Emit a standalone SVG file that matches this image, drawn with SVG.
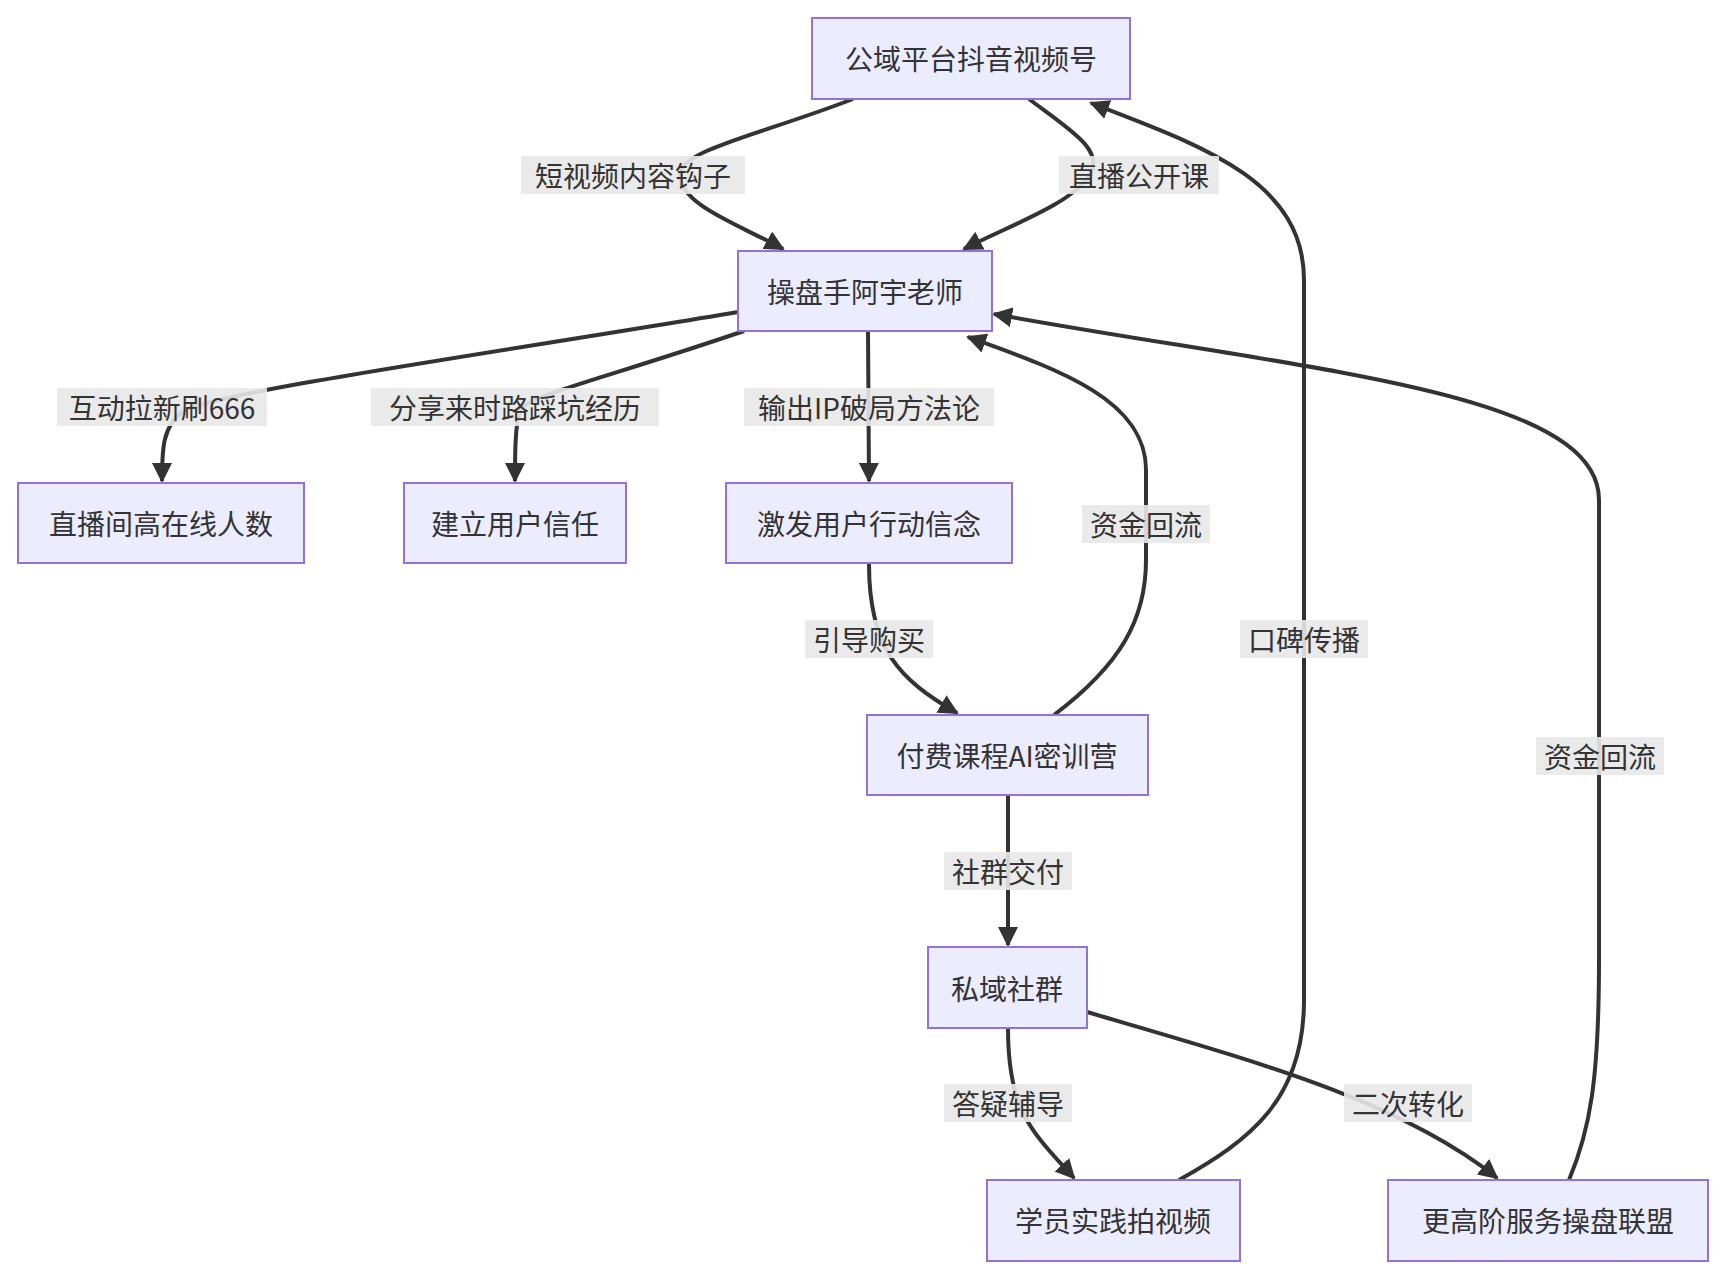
<svg xmlns="http://www.w3.org/2000/svg" width="1724" height="1278" viewBox="0 0 1724 1278">
<style>
.n rect{fill:#ECECFF;stroke:#9370DB;stroke-width:2}
text{font-family:"Noto Sans CJK SC","Liberation Sans",sans-serif;font-size:28px;fill:#333;text-anchor:middle;dominant-baseline:central}
.e path{fill:none;stroke:#333;stroke-width:4}
.l rect{fill:#e8e8e8;opacity:0.9}
</style>
<defs><marker id="a" viewBox="0 0 10 10" refX="9" refY="5" markerWidth="5" markerHeight="5" orient="auto"><path d="M0,0L10,5L0,10z" fill="#333"/></marker></defs>
<rect width="1724" height="1278" fill="#fff"/>
<g class="e">
<path d="M853,99 C760,135 680,150 680,175 C680,205 740,225 783,249" marker-end="url(#a)"/>
<path d="M1029,99 C1070,130 1105,150 1090,175 C1070,205 1010,225 964,249" marker-end="url(#a)"/>
<path d="M1179,1180 C1250,1140 1304,1100 1304,1000 L1304,280 C1304,180 1200,145 1091,103" marker-end="url(#a)"/>
<path d="M738,312 C500,352 230,390 185,410 C162,425 162,450 162,481" marker-end="url(#a)"/>
<path d="M744,331 C600,380 530,395 520,410 C515,425 515,455 515,481" marker-end="url(#a)"/>
<path d="M868,331 L869,481" marker-end="url(#a)"/>
<path d="M1054,715 C1120,665 1146,620 1146,560 L1146,470 C1146,400 1060,370 968,337" marker-end="url(#a)"/>
<path d="M869,564 C869,650 900,680 957,713" marker-end="url(#a)"/>
<path d="M1008,795 L1008,945" marker-end="url(#a)"/>
<path d="M1008,1028 C1008,1110 1030,1130 1074,1178" marker-end="url(#a)"/>
<path d="M1087,1012 C1250,1060 1400,1100 1497,1178" marker-end="url(#a)"/>
<path d="M1569,1180 C1590,1130 1599,1080 1599,960 L1599,500 C1599,390 1300,370 994,314" marker-end="url(#a)"/>
</g>
<g class="l">
<rect x="521" y="156" width="224" height="38"/><text x="633" y="175">短视频内容钩子</text>
<rect x="1059" y="156" width="160" height="38"/><text x="1139" y="175">直播公开课</text>
<rect x="1240" y="620" width="128" height="38"/><text x="1304" y="639">口碑传播</text>
<rect x="57" y="388" width="210" height="38"/><text x="162" y="407">互动拉新刷666</text>
<rect x="371" y="388" width="288" height="38"/><text x="515" y="407">分享来时路踩坑经历</text>
<rect x="744" y="388" width="250" height="38"/><text x="869" y="407">输出IP破局方法论</text>
<rect x="1082" y="505" width="128" height="38"/><text x="1146" y="524">资金回流</text>
<rect x="805" y="620" width="128" height="38"/><text x="869" y="639">引导购买</text>
<rect x="944" y="852" width="128" height="38"/><text x="1008" y="871">社群交付</text>
<rect x="944" y="1084" width="128" height="38"/><text x="1008" y="1103">答疑辅导</text>
<rect x="1344" y="1084" width="128" height="38"/><text x="1408" y="1103">二次转化</text>
<rect x="1536" y="737" width="128" height="38"/><text x="1600" y="756">资金回流</text>
</g>
<g id="n1" class="n"><rect x="812" y="18" width="318" height="81"/><text x="971" y="58">公域平台抖音视频号</text></g>
<g id="n2" class="n"><rect x="738" y="251" width="254" height="80"/><text x="865" y="291">操盘手阿宇老师</text></g>
<g id="n3" class="n"><rect x="18" y="483" width="286" height="80"/><text x="161" y="523">直播间高在线人数</text></g>
<g id="n4" class="n"><rect x="404" y="483" width="222" height="80"/><text x="515" y="523">建立用户信任</text></g>
<g id="n5" class="n"><rect x="726" y="483" width="286" height="80"/><text x="869" y="523">激发用户行动信念</text></g>
<g id="n6" class="n"><rect x="867" y="715" width="281" height="80"/><text x="1007" y="755">付费课程AI密训营</text></g>
<g id="n7" class="n"><rect x="928" y="947" width="159" height="81"/><text x="1007" y="988">私域社群</text></g>
<g id="n8" class="n"><rect x="987" y="1180" width="253" height="81"/><text x="1113" y="1220">学员实践拍视频</text></g>
<g id="n9" class="n"><rect x="1388" y="1180" width="320" height="81"/><text x="1548" y="1220">更高阶服务操盘联盟</text></g>
</svg>
